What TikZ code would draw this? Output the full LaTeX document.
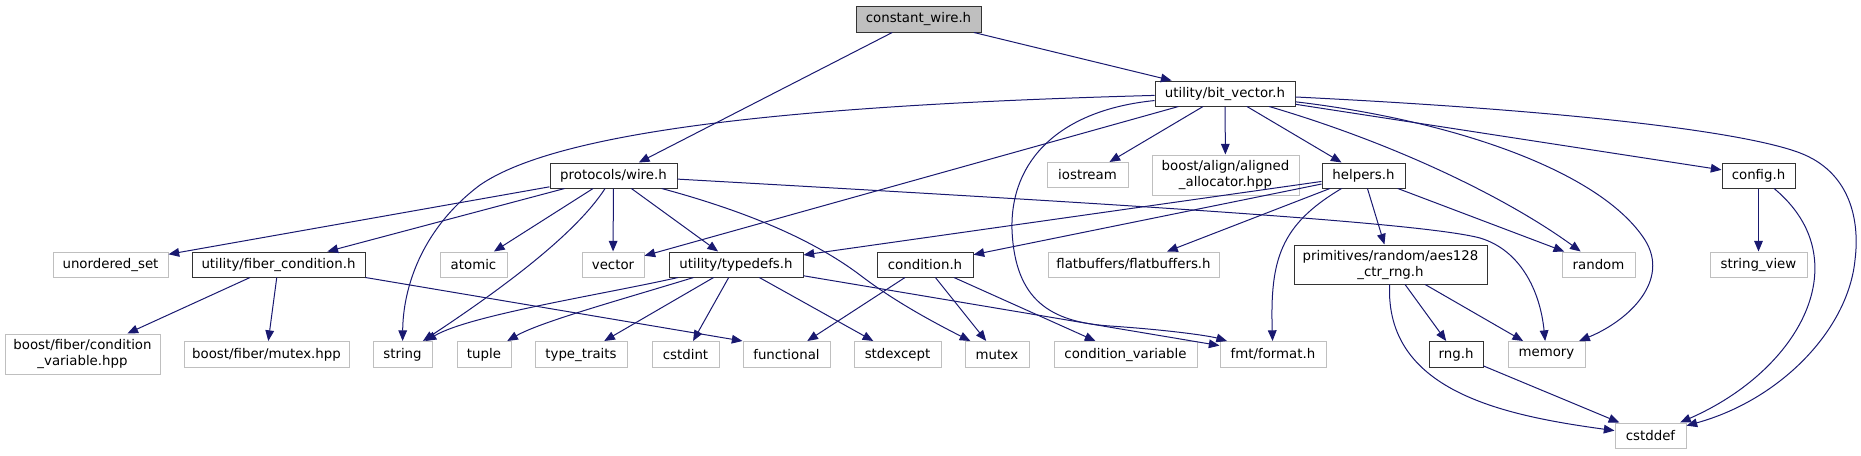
\documentclass[tikz,border=0pt]{standalone}
\usepackage{fontspec}
\setmainfont{DejaVu Sans}
\usetikzlibrary{arrows.meta}
\definecolor{edgeblue}{HTML}{191970}
\definecolor{sysgray}{HTML}{BFBFBF}
\begin{document}
\begin{tikzpicture}[x=0.75pt, y=-0.75pt,
    incl/.style={draw=black!80, line width=0.75pt, inner sep=0pt, align=center,
      font=\fontsize{10}{12}\selectfont, minimum height=25*0.75pt},
    sys/.style={incl, draw=sysgray},
    cur/.style={incl, fill=sysgray},
    boxw/.style={minimum width=#1*0.75pt},
    boxh/.style={minimum height=#1*0.75pt},
    dep/.style={draw=edgeblue, line width=0.75pt, -{Triangle[length=8pt,width=6.5pt]}}]
  \useasboundingbox (0,0) rectangle (1861,455);
  % the file itself and what it includes directly
  \node[cur, boxw=125, boxh=26] (cw) at (918.5,19) {constant\_wire.h};
  \node[incl, boxw=140] (bv) at (1225,93.5) {utility/bit\_vector.h};
  \node[incl, boxw=127] (pw) at (613.5,175.5) {protocols/wire.h};
  \node[sys, boxw=81] (ios) at (1087.5,175) {iostream};
  \node[sys, boxw=147, boxh=40] (aln) at (1225.5,175) {boost/align/aligned\\\_allocator.hpp};
  \node[incl, boxw=83] (hlp) at (1363.5,175.5) {helpers.h};
  \node[incl, boxw=73] (cfg) at (1758.5,175.5) {config.h};
  % third level
  \node[sys, boxw=115] (uset) at (110.5,264.5) {unordered\_set};
  \node[incl, boxw=173] (fcond) at (278.5,264.5) {utility/fiber\_condition.h};
  \node[sys, boxw=67] (atom) at (473.5,264.5) {atomic};
  \node[sys, boxw=62] (vec) at (613,264.5) {vector};
  \node[incl, boxw=134] (tdef) at (736,264.5) {utility/typedefs.h};
  \node[incl, boxw=96] (cond) at (925,264.5) {condition.h};
  \node[sys, boxw=171] (flat) at (1133.5,264.5) {flatbuffers/flatbuffers.h};
  \node[incl, boxw=193, boxh=39] (aes) at (1390.5,264.5) {primitives/random/aes128\\\_ctr\_rng.h};
  \node[sys, boxw=73] (rnd) at (1598.5,264.5) {random};
  \node[sys, boxw=97] (sv) at (1758.5,264.5) {string\_view};
  % fourth level
  \node[sys, boxw=155, boxh=40] (bcv) at (82.5,354) {boost/fiber/condition\\\_variable.hpp};
  \node[sys, boxw=165, boxh=26] (bmtx) at (266.5,354.5) {boost/fiber/mutex.hpp};
  \node[sys, boxw=59, boxh=26] (str) at (402.5,354.5) {string};
  \node[sys, boxw=54, boxh=26] (tup) at (484,354.5) {tuple};
  \node[sys, boxw=92, boxh=26] (tt) at (581,354.5) {type\_traits};
  \node[sys, boxw=67, boxh=26] (cint) at (685.5,354.5) {cstdint};
  \node[sys, boxw=87, boxh=26] (func) at (786.5,354.5) {functional};
  \node[sys, boxw=87, boxh=26] (sexc) at (897.5,354.5) {stdexcept};
  \node[sys, boxw=64, boxh=26] (mtx) at (997,354.5) {mutex};
  \node[sys, boxw=143, boxh=26] (cvar) at (1125.5,354.5) {condition\_variable};
  \node[sys, boxw=106, boxh=26] (fmt) at (1273,354.5) {fmt/format.h};
  \node[incl, boxw=54, boxh=26] (rng) at (1456,354.5) {rng.h};
  \node[sys, boxw=77, boxh=26] (mem) at (1546.5,354.5) {memory};
  \node[sys, boxw=71] (cdef) at (1650.5,435.5) {cstddef};

  % constant_wire.h
  \draw[dep] (cw) -- (pw);
  \draw[dep] (cw) -- (bv);
  % utility/bit_vector.h
  \draw[dep] (bv) .. controls (800,105) and (560,130) .. (480,185)
    .. controls (420,230) and (403,290) .. (str);
  \draw[dep] (bv) -- (vec);
  \draw[dep] (bv) .. controls (1060,110) and (1010,160) .. (1012,230)
    .. controls (1015,300) and (1050,322) .. (1110,326)
    .. controls (1170,330) and (1210,336) .. (fmt);
  \draw[dep] (bv) -- (ios);
  \draw[dep] (bv) -- (aln);
  \draw[dep] (bv) -- (hlp);
  \draw[dep] (bv) .. controls (1400,145) and (1510,200) .. (rnd);
  \draw[dep] (bv) .. controls (1450,120) and (1600,170) .. (1645,240)
    .. controls (1670,280) and (1630,320) .. (mem);
  \draw[dep] (bv) -- (cfg);
  \draw[dep] (bv) .. controls (1600,112) and (1760,135) .. (1805,155)
    .. controls (1850,175) and (1860,220) .. (1855,260)
    .. controls (1848,330) and (1780,400) .. (cdef);
  % protocols/wire.h
  \draw[dep] (pw) -- (uset);
  \draw[dep] (pw) -- (fcond);
  \draw[dep] (pw) .. controls (575,235) and (500,290) .. (str);
  \draw[dep] (pw) -- (atom);
  \draw[dep] (pw) -- (vec);
  \draw[dep] (pw) -- (tdef);
  \draw[dep] (pw) .. controls (760,215) and (820,245) .. (860,275)
    .. controls (890,298) and (925,318) .. (mtx);
  \draw[dep] (pw) .. controls (1100,203) and (1420,222) .. (1480,238)
    .. controls (1520,250) and (1540,290) .. (mem);
  % utility/fiber_condition.h
  \draw[dep] (fcond) -- (bcv);
  \draw[dep] (fcond) -- (bmtx);
  \draw[dep] (fcond.south east) -- (func.north west);
  % utility/typedefs.h
  \draw[dep] (tdef) .. controls (600,295) and (470,315) .. (str);
  \draw[dep] (tdef) .. controls (620,300) and (540,322) .. (tup);
  \draw[dep] (tdef) -- (tt);
  \draw[dep] (tdef) -- (cint);
  \draw[dep] (tdef) -- (sexc);
  \draw[dep] (tdef) -- (fmt);
  % condition.h
  \draw[dep] (cond) -- (func);
  \draw[dep] (cond) -- (mtx);
  \draw[dep] (cond) -- (cvar);
  % helpers.h
  \draw[dep] (hlp) -- (tdef);
  \draw[dep] (hlp) -- (cond);
  \draw[dep] (hlp) -- (flat);
  \draw[dep] (hlp) .. controls (1280,225) and (1270,260) .. (fmt);
  \draw[dep] (hlp) -- (aes);
  \draw[dep] (hlp) -- (rnd);
  % primitives/random/aes128_ctr_rng.h
  \draw[dep] (aes) -- (rng);
  \draw[dep] (aes) -- (mem);
  \draw[dep] (aes) .. controls (1385,390) and (1500,415) .. (cdef);
  % rng.h and config.h
  \draw[dep] (rng) -- (cdef);
  \draw[dep] (cfg) -- (sv);
  \draw[dep] (cfg) .. controls (1860,260) and (1800,370) .. (cdef);
\end{tikzpicture}
\end{document}
